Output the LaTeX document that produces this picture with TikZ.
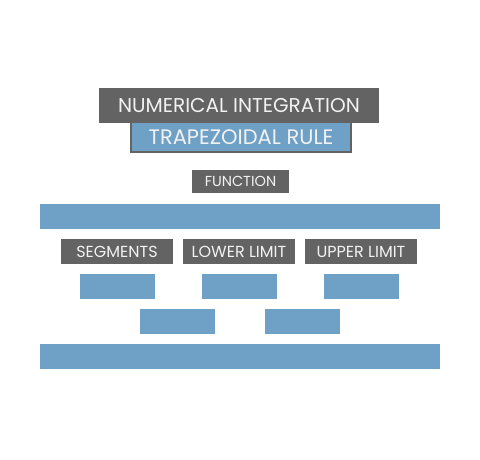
\documentclass[tikz,border=0pt]{standalone}
\usepackage{fontspec}
\setmainfont{Poppins}
\usepackage{xcolor}
\usetikzlibrary{positioning}
\definecolor{boxgray}{HTML}{636363}
\definecolor{boxblue}{HTML}{6FA0C6}
\definecolor{labeltext}{HTML}{F2F2F2}

\tikzset{
  graybox/.style={fill=boxgray, text=labeltext, inner sep=0pt, minimum height=25pt, font=\fontsize{16}{16}\selectfont},
  bluebox/.style={fill=boxblue, inner sep=0pt, minimum width=75pt, minimum height=25pt}
}

\begin{document}
\begin{tikzpicture}[x=1pt, y=-1pt]
    \useasboundingbox (0,0) rectangle (480,460);
    % heading
    \node[graybox, minimum width=280pt, minimum height=35pt, font=\fontsize{20}{20}\selectfont] (title) at (239,105.5) {NUMERICAL INTEGRATION};
    \node[fill=boxblue, draw=boxgray, line width=2pt, text=labeltext, inner sep=0pt,
          minimum width=220pt, minimum height=30pt, font=\fontsize{21}{21}\selectfont] (rule) at (241,137) {TRAPEZOIDAL RULE};
    % input function
    \node[graybox, minimum width=97pt, minimum height=23pt, font=\fontsize{14.5}{14.5}\selectfont] (function) at (240.5,181.5) {FUNCTION};
    \node[bluebox, minimum width=400pt] (functionbar) at (240,216.5) {};
    % parameters
    \node[graybox, minimum width=112pt] (segments) at (117,251.5) {SEGMENTS};
    \node[graybox, minimum width=112pt] (lower) at (239,251.5) {LOWER LIMIT};
    \node[graybox, minimum width=112pt] (upper) at (361,251.5) {UPPER LIMIT};
    \node[bluebox] (segmentsval) at (117.5,286.5) {};
    \node[bluebox] (lowerval) at (239.5,286.5) {};
    \node[bluebox] (upperval) at (361.5,286.5) {};
    \node[bluebox] (leftbtn) at (177.5,321.5) {};
    \node[bluebox] (rightbtn) at (302.5,321.5) {};
    % result
    \node[bluebox, minimum width=400pt] (resultbar) at (240,356.5) {};
  \end{tikzpicture}
\end{document}
